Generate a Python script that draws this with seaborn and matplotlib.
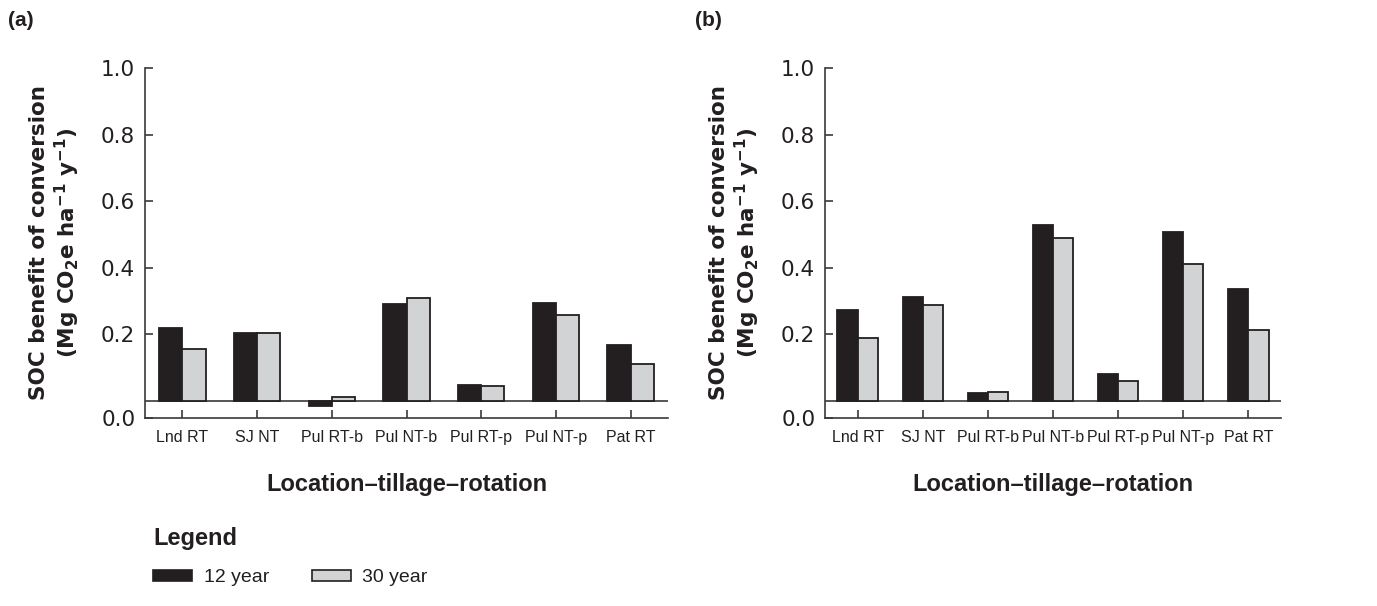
import matplotlib
matplotlib.use("Agg")
import matplotlib.pyplot as plt
import seaborn as sns
import pandas as pd
from matplotlib.patches import Patch

# ---- data ----
categories = ["Lnd RT", "SJ NT", "Pul RT-b", "Pul NT-b", "Pul RT-p", "Pul NT-p", "Pat RT"]
series = ["12 year", "30 year"]
a_12yr = [0.220, 0.203, -0.014, 0.292, 0.048, 0.295, 0.167]
a_30yr = [0.157, 0.203, 0.013, 0.308, 0.046, 0.259, 0.112]
b_12yr = [0.273, 0.313, 0.024, 0.528, 0.080, 0.507, 0.336]
b_30yr = [0.188, 0.288, 0.026, 0.490, 0.061, 0.410, 0.213]
y_tick_values = [0.0, 0.2, 0.4, 0.6, 0.8, 1.0]
y_tick_labels = ["0.0", "0.2", "0.4", "0.6", "0.8", "1.0"]
panel_labels = ["(a)", "(b)"]
x_title = "Location\u2013tillage\u2013rotation"
y_title = "SOC benefit of conversion\n(Mg CO$_2$e ha$^{-1}$ y$^{-1}$)"

INK = "#231f20"
BLACK = "#231f20"
GRAY = "#d1d3d4"
AXIS = "#3a3a3a"

sns.set_style("ticks")
plt.rcParams["font.family"] = ["Liberation Sans", "DejaVu Sans"]
plt.rcParams["mathtext.fontset"] = "dejavusans"
plt.rcParams["mathtext.default"] = "bf"
plt.rcParams["text.color"] = INK

W, H = 1377, 606
fig = plt.figure(figsize=(W / 100, H / 100), dpi=100)
ax_a = fig.add_axes([145 / W, 1 - 417.5 / H, 523 / W, 349.5 / H])
ax_b = fig.add_axes([825 / W, 1 - 417.5 / H, 456 / W, 349.5 / H])

ymin = -0.05
for ax, v12, v30 in [(ax_a, a_12yr, a_30yr), (ax_b, b_12yr, b_30yr)]:
    df = pd.DataFrame({
        "cat": categories * 2,
        "series": [series[0]] * len(categories) + [series[1]] * len(categories),
        "value": v12 + v30,
    })
    ax.axhline(0, color=AXIS, lw=1.2, zorder=1)
    sns.barplot(data=df, x="cat", y="value", hue="series", order=categories,
                hue_order=series, palette=[BLACK, GRAY], saturation=1,
                width=0.62, edgecolor=INK, linewidth=1.3, errorbar=None,
                legend=False, ax=ax, zorder=2)
    ax.set_xlim(-0.5, len(categories) - 0.5)
    ax.set_ylim(ymin, 1.0)
    ticks = [ymin] + y_tick_values[1:]
    ax.set_yticks(ticks)
    ax.set_yticklabels(y_tick_labels, fontfamily="DejaVu Sans")
    for s in ["top", "right"]:
        ax.spines[s].set_visible(False)
    for s in ["left", "bottom"]:
        ax.spines[s].set_color(AXIS)
        ax.spines[s].set_linewidth(1.2)
    ax.tick_params(axis="both", direction="in", length=6, width=1.2, color=AXIS)
    ax.tick_params(axis="y", labelsize=15.5, pad=7, labelcolor=INK)
    ax.tick_params(axis="x", labelsize=11.5, pad=9, labelcolor=INK)
    ax.set_xlabel(x_title, fontsize=17, fontweight="bold", labelpad=20, color=INK)
    ax.set_ylabel(y_title, fontsize=15.5, fontweight="bold", labelpad=14,
                  linespacing=1.15, color=INK, fontfamily="DejaVu Sans")

fig.text(8 / W, 1 - 20 / H, panel_labels[0], fontsize=15, fontweight="bold", va="center")
fig.text(695 / W, 1 - 20 / H, panel_labels[1], fontsize=15, fontweight="bold", va="center")

handles = [Patch(facecolor=BLACK, edgecolor=INK, linewidth=1.2),
           Patch(facecolor=GRAY, edgecolor=INK, linewidth=1.2)]
leg = fig.legend(handles, series, loc="upper left", bbox_to_anchor=(153 / W, 1 - 527 / H),
                 ncol=2, frameon=False, title="Legend",
                 title_fontproperties={"weight": "bold", "size": 17},
                 fontsize=14, handlelength=2.0, handleheight=0.45,
                 columnspacing=2.2, handletextpad=0.6, borderaxespad=0, borderpad=0,
                 labelspacing=0.3)
leg._legend_box.align = "left"
leg._legend_box.sep = 14

fig.savefig("out.png", dpi=100)
